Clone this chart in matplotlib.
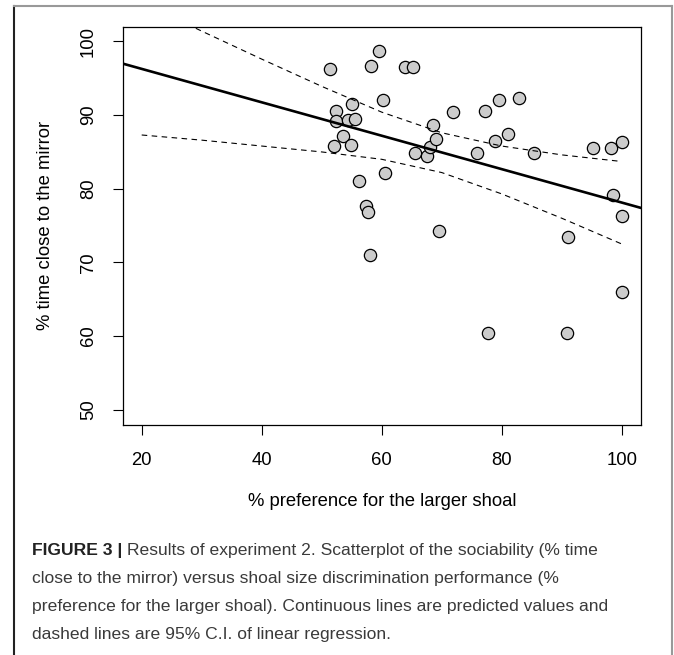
import matplotlib
matplotlib.use("Agg")
import matplotlib.pyplot as plt
from matplotlib.lines import Line2D

# data
pref = [51.4, 59.5, 58.2, 63.8, 65.2, 60.2, 55.0, 52.4, 52.4, 54.4, 55.6,
        53.6, 52.0, 54.8, 56.2, 57.3, 57.7, 58.0, 60.6, 65.5, 67.6, 68.0,
        68.6, 69.0, 69.6, 71.8, 75.8, 77.2, 79.5, 82.9, 78.8, 81.0, 85.3,
        77.7, 90.9, 91.1, 95.2, 98.2, 100.0, 98.6, 100.0, 100.0]
mirror = [96.3, 98.7, 96.7, 96.5, 96.5, 92.1, 91.5, 90.6, 89.2, 89.3, 89.5,
          87.1, 85.8, 86.0, 81.0, 77.7, 76.9, 71.0, 82.2, 84.8, 84.5, 85.7,
          88.7, 86.8, 74.3, 90.4, 84.8, 90.6, 92.1, 92.3, 86.5, 87.4, 84.9,
          60.4, 60.4, 73.5, 85.6, 85.5, 86.3, 79.2, 76.3, 66.0]

# regression line (edge to edge) and 95% CI curves
fit_x = [16.8, 103.2]
fit_y = [97.0, 77.4]
ci_x = [20, 30, 40, 50, 60, 70, 80, 90, 100]
ci_upper = [105.3, 101.4, 97.6, 93.9, 90.4, 87.6, 85.8, 84.6, 83.7]
ci_lower = [87.3, 86.6, 85.8, 85.0, 84.0, 82.2, 79.3, 76.0, 72.5]

xticks = [20, 40, 60, 80, 100]
yticks = [50, 60, 70, 80, 90, 100]

caption_lines = [
    "Results of experiment 2. Scatterplot of the sociability (% time",
    "close to the mirror) versus shoal size discrimination performance (%",
    "preference for the larger shoal). Continuous lines are predicted values and",
    "dashed lines are 95% C.I. of linear regression.",
]

plt.rcParams['font.family'] = ['Liberation Sans', 'DejaVu Sans']
plt.rcParams['font.size'] = 13.3

W, H = 674, 655
fig = plt.figure(figsize=(W / 100, H / 100), dpi=100)
ax = fig.add_axes([122.5 / W, 1 - 424.5 / H, (641 - 122.5) / W, (424.5 - 26.7) / H])

ax.scatter(pref, mirror, s=78, facecolor='#cccccc', edgecolor='black',
           linewidth=0.9, zorder=2)
ax.plot(fit_x, fit_y, color='black', lw=1.9, zorder=3)
ax.plot(ci_x, ci_upper, color='black', lw=0.8, ls=(0, (5, 4)), zorder=3)
ax.plot(ci_x, ci_lower, color='black', lw=0.8, ls=(0, (5, 4)), zorder=3)

ax.set_xlim(16.8, 103.2)
ax.set_ylim(48, 102)
ax.set_xticks(xticks)
ax.set_yticks(yticks)
ax.set_yticklabels([str(v) for v in yticks], rotation=90, va='center')
ax.tick_params(length=7.5, width=0.8, color='black')
ax.tick_params(axis='x', pad=12)
ax.tick_params(axis='y', pad=11)
for s in ax.spines.values():
    s.set_linewidth(0.9)

fig.text((122.5 + 641) / 2 / W, 1 - 501 / H, "% preference for the larger shoal",
         ha='center', va='center')
fig.text(46 / W, 1 - 225.6 / H, "% time close to the mirror", rotation=90,
         ha='center', va='center')

# page frame
fig.add_artist(Line2D([14 / W, 14 / W], [0, 1 - 6 / H], color='#222222', lw=1.5))
fig.add_artist(Line2D([14 / W, 672 / W], [1 - 6 / H, 1 - 6 / H], color='#999999', lw=1.5))
fig.add_artist(Line2D([671.5 / W, 671.5 / W], [0, 1 - 6 / H], color='#999999', lw=1.5))

# caption
cap_font = ['Liberation Sans', 'DejaVu Sans']
cap_size = 12.6
cap_color = '#3a3a3a'
renderer = fig.canvas.get_renderer()
base_y = [555, 583, 611, 639]
x0 = 32 / W
head = fig.text(x0, 1 - base_y[0] / H, "FIGURE 3 | ", fontweight='bold',
                family=cap_font, fontsize=cap_size, color='#222222', va='baseline')
hw = head.get_window_extent(renderer).width / W
for i, line in enumerate(caption_lines):
    xx = x0 + hw if i == 0 else x0
    fig.text(xx, 1 - base_y[i] / H, line, family=cap_font, fontsize=cap_size,
             color=cap_color, va='baseline')

fig.savefig("out.png", dpi=100)
